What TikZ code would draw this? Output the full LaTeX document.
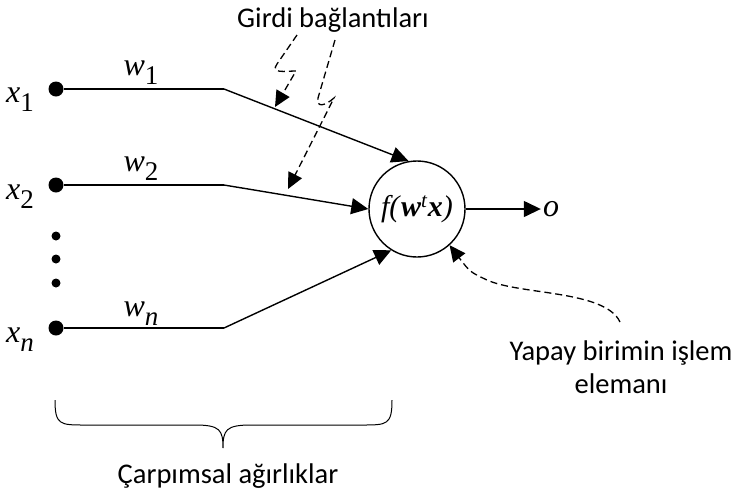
\documentclass[tikz,border=0pt]{standalone}
\usepackage{fontspec}
\setmainfont{Liberation Serif}
\newfontfamily\labelfont{Carlito}
\usetikzlibrary{arrows.meta}

\newcommand{\var}[2]{\textit{#1}\raisebox{-0.28em}{\fontsize{27}{27}\selectfont #2}}

\begin{document}
\begin{tikzpicture}[x=1pt, y=-1pt,
  input/.style={circle, fill, inner sep=0pt, minimum size=15pt},
  smalldot/.style={circle, fill, inner sep=0pt, minimum size=9pt},
  neuronbox/.style={circle, draw, line width=1.4pt, minimum size=96pt, inner sep=0pt, font=\fontsize{30}{32}\selectfont},
  link/.style={line width=1.4pt},
  arrow/.style={link, -{Triangle[length=17pt, width=16pt]}},
  note/.style={line width=1.3pt, dash pattern=on 7pt off 4pt, -{Triangle[length=16pt, width=15pt]}},
  sym/.style={font=\fontsize{32}{34}\selectfont},
  caption/.style={font=\labelfont\fontsize{28.5}{33}\selectfont, align=center}
]
\useasboundingbox (0,0) rectangle (736,499);

% inputs
\node[input] (in1) at (56,89) {};
\node[input] (in2) at (56,185) {};
\node[input] (inn) at (56,328) {};
\node[smalldot] (d1) at (56,236) {};
\node[smalldot] (d2) at (56,259) {};
\node[smalldot] (d3) at (56,283) {};

\node[sym] (lx1) at (20,100) {\var{x}{1}};
\node[sym] (lx2) at (20,197) {\var{x}{2}};
\node[sym] (lxn) at (20,340) {\var{x}{\textit{n}}};

\node[sym] (lw1) at (141,73) {\var{w}{1}};
\node[sym] (lw2) at (141,169) {\var{w}{2}};
\node[sym] (lwn) at (141,314) {\var{w}{\textit{n}}};

% neuron
\node[neuronbox] (neuron) at (417,209) {\textit{f(}\textbf{\textit{w}}\textsuperscript{\textit{t}}\textbf{\textit{x}}\textit{)}};
\node[sym, inner sep=2pt] (out) at (551,209) {\textit{o}};

\coordinate (b1) at (224,89);
\coordinate (b2) at (224,185);
\coordinate (bn) at (224,328);

\draw[link] (in1) -- (b1);
\draw[link] (in2) -- (b2);
\draw[link] (inn) -- (bn);
\draw[arrow] (b1) -- (neuron.100);
\draw[arrow] (b2) -- (neuron.180);
\draw[arrow] (bn) -- (neuron.238);
\draw[arrow] (neuron.east) -- (out.west);

% labels
\node[caption] (girdi) at (333,20) {Girdi bağlantıları};
\node[caption] (yapay) at (621,367) {Yapay birimin işlem\\elemanı};
\node[caption] (carp) at (228,476) {Çarpımsal ağırlıklar};

\coordinate (t1) at (275,107);
\coordinate (t2) at (288,189);

\draw[note] (297,35) -- (277,64) .. controls (270,74) and (285,71) .. (296,71) -- (t1);
\draw[note] (335,40) -- (318,98) .. controls (316,108) and (325,106) .. (334,98) -- (t2);
\draw[note] (620,322) .. controls (605,290) and (520,295) .. (487,280) .. controls (470,272) .. (neuron.-48);

% brace
\draw[line width=1pt] (55,400) .. controls (55,425) and (60,425) .. (85,425) -- (195,425)
  .. controls (220,425) and (223,430) .. (223,448)
  .. controls (223,430) and (226,425) .. (251,425) -- (362,425)
  .. controls (387,425) and (392,425) .. (392,400);
\end{tikzpicture}
\end{document}
